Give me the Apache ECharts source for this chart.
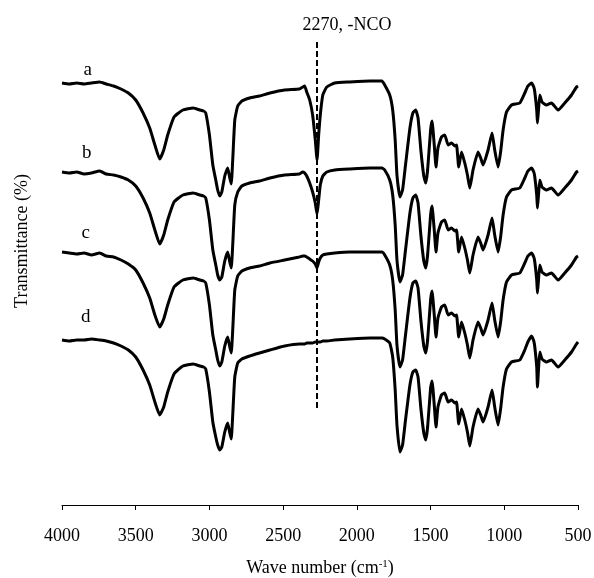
<!DOCTYPE html>
<html>
<head>
<meta charset="utf-8">
<script src="https://cdn.jsdelivr.net/npm/echarts@6/dist/echarts.min.js"></script>
<style>
  html, body { margin: 0; padding: 0; background: #fff; }
  #main { width: 594px; height: 578px; }
</style>
</head>
<body>
<div id="main"></div>
<script>
// wavenumbers (cm-1), shared by all four spectra
const wavenumbers = [4000, 3950, 3900, 3850, 3800, 3745, 3700, 3650, 3600, 3550, 3500, 3450, 3405, 3370, 3337, 3310, 3283, 3240, 3180, 3110,
  3066, 3040, 3025, 3000, 2977, 2957, 2944, 2930, 2916, 2896, 2876, 2862, 2852, 2842, 2828, 2808, 2780, 2727, 2660, 2590,
  2490, 2390, 2367, 2354, 2340, 2320, 2300, 2282, 2270, 2259, 2248, 2231, 2204, 2150, 2050, 1910, 1830, 1811, 1777, 1757,
  1740, 1728, 1708, 1690, 1670, 1640, 1620, 1601, 1585, 1566, 1546, 1533, 1520, 1500, 1490, 1475, 1463, 1450, 1426, 1404,
  1381, 1358, 1335, 1324, 1309, 1290, 1268, 1250, 1234, 1212, 1178, 1160, 1144, 1110, 1083, 1065, 1042, 1025, 1008, 985,
  951, 895, 861, 840, 816, 800, 793, 780, 775, 767, 759, 744, 714, 680, 635, 590, 544, 510, 500];

// offset transmittance (arbitrary units), top to bottom
const curveA = [422, 421, 422, 421, 422, 423, 421, 419, 416, 412, 405, 392, 377, 360, 346, 355, 370, 388, 395, 397,
  395, 394, 392, 370, 340, 325, 315, 309, 313, 329, 337, 327, 321, 345, 385, 399, 404, 407, 409, 412,
  415, 416, 418, 419, 413, 405, 390, 365, 345, 370, 390, 410, 418, 422, 423, 424, 424, 420, 410, 395,
  365, 330, 308, 315, 340, 377, 392, 395, 387, 355, 329, 322, 335, 375, 384, 360, 338, 357, 368, 370,
  360, 362, 359, 360, 338, 353, 342, 330, 317, 335, 353, 347, 340, 355, 372, 355, 338, 353, 375, 393,
  400, 402, 412, 419, 422, 418, 413, 395, 382, 397, 410, 403, 400, 402, 395, 402, 410, 418, 419];
const curveB = [333, 332, 333, 331, 332, 334, 331, 330, 328, 325, 319, 307, 292, 275, 261, 270, 285, 303, 310, 312,
  310, 309, 307, 285, 255, 240, 230, 225, 228, 244, 253, 243, 237, 260, 300, 313, 319, 322, 324, 327,
  330, 331, 333, 332, 329, 322, 313, 302, 291, 305, 320, 329, 333, 335, 336, 337, 337, 335, 325, 310,
  280, 245, 223, 230, 255, 292, 307, 310, 302, 270, 244, 237, 250, 290, 299, 275, 253, 272, 283, 285,
  275, 277, 274, 275, 253, 268, 257, 245, 232, 250, 268, 262, 255, 270, 287, 270, 253, 268, 290, 308,
  315, 317, 327, 334, 337, 333, 328, 310, 297, 312, 325, 318, 315, 317, 310, 317, 325, 333, 334];
const curveC = [253, 252, 251, 252, 250, 252, 249, 248, 245, 241, 235, 222, 207, 190, 178, 186, 200, 218, 225, 227,
  225, 224, 222, 200, 170, 155, 145, 139, 143, 159, 168, 158, 152, 175, 215, 229, 234, 237, 239, 242,
  245, 248, 249, 249, 248, 246, 244, 241, 237, 243, 247, 250, 251, 252, 253, 253, 253, 250, 240, 225,
  195, 160, 138, 145, 170, 207, 222, 224, 217, 185, 159, 152, 165, 205, 214, 190, 168, 187, 198, 200,
  190, 192, 189, 190, 168, 183, 172, 160, 147, 165, 183, 177, 170, 185, 202, 185, 168, 183, 205, 223,
  230, 232, 242, 249, 252, 248, 243, 225, 212, 227, 240, 233, 230, 232, 225, 232, 240, 248, 249];
const curveD = [165, 164, 165, 165, 166, 165, 164, 162, 159, 155, 148, 135, 120, 103, 90, 98, 113, 131, 139, 141,
  139, 138, 136, 113, 83, 68, 60, 55, 58, 73, 82, 72, 66, 90, 128, 142, 146, 149, 152, 155,
  159, 161, 161, 161, 162, 162, 162, 163, 163, 163, 163, 164, 164, 165, 166, 167, 167, 166, 162, 148,
  115, 80, 53, 60, 85, 120, 133, 135, 128, 97, 72, 65, 78, 117, 124, 100, 78, 98, 110, 112,
  103, 105, 102, 103, 81, 96, 85, 73, 59, 78, 96, 90, 83, 98, 115, 98, 80, 96, 118, 136,
  143, 145, 155, 163, 169, 164, 158, 138, 118, 138, 153, 146, 143, 145, 138, 145, 153, 161, 163];

const curveNames = ['a', 'b', 'c', 'd'];
const curves = [curveA, curveB, curveC, curveD];
const ncoWavenumber = 2270;
const ncoLabel = '2270, -NCO';

const FONT = '"Liberation Serif", "Times New Roman", serif';
// where the letters sit, in data coordinates
const nameAt = [[3826, 435], [3832, 352], [3839, 272], [3839, 188]];

const chart = echarts.init(document.getElementById('main'));

const series = curves.map((vals, i) => {
  const s = {
    name: curveNames[i],
    type: 'line',
    data: wavenumbers.map((w, j) => [w, vals[j]]),
    showSymbol: false,
    smooth: 0.15,
    silent: true,
    lineStyle: { color: '#000', width: 3 },
    markPoint: {
      symbol: 'rect',
      symbolSize: 1,
      itemStyle: { color: 'transparent' },
      label: { show: true, position: 'inside', color: '#000', fontFamily: FONT, fontSize: 19, formatter: curveNames[i] },
      data: [{ coord: nameAt[i] }]
    }
  };
  if (i === 0) {
    s.markLine = {
      silent: true,
      symbol: ['none', 'none'],
      lineStyle: { color: '#000', type: [6, 3], width: 2 },
      label: {
        show: true, position: 'start', formatter: ncoLabel, distance: 8,
        padding: [0, 0, 0, 60], color: '#000', fontFamily: FONT, fontSize: 18
      },
      data: [[{ coord: [ncoWavenumber, 463] }, { coord: [ncoWavenumber, 97] }]]
    };
  }
  return s;
});

const option = {
  animation: false,
  backgroundColor: '#fff',
  grid: { left: 62, right: 16, top: 40, bottom: 73, containLabel: false, outerBoundsMode: 'none' },
  xAxis: {
    type: 'value',
    inverse: true,
    min: 500,
    max: 4000,
    interval: 500,
    axisLine: { lineStyle: { color: '#000', width: 1 } },
    axisTick: { show: true, length: 5, lineStyle: { color: '#000' } },
    axisLabel: { color: '#000', fontFamily: FONT, fontSize: 18, margin: 22, formatter: v => String(v) },
    splitLine: { show: false },
    name: 'Wave number (cm{sup|-1})',
    nameLocation: 'middle',
    nameGap: 54,
    nameTextStyle: {
      color: '#000', fontFamily: FONT, fontSize: 18,
      rich: { sup: { fontSize: 11, fontFamily: FONT, color: '#000', padding: [0, 0, 8, 0] } }
    }
  },
  yAxis: { type: 'value', min: 0, max: 465, show: false },
  graphic: [{
    type: 'text',
    x: 22,
    y: 241,
    rotation: Math.PI / 2,
    style: { text: 'Transmittance (%)', font: '18px "Liberation Serif"', fill: '#000', align: 'center', verticalAlign: 'middle' }
  }],
  series: series
};

chart.setOption(option);
</script>
</body>
</html>
